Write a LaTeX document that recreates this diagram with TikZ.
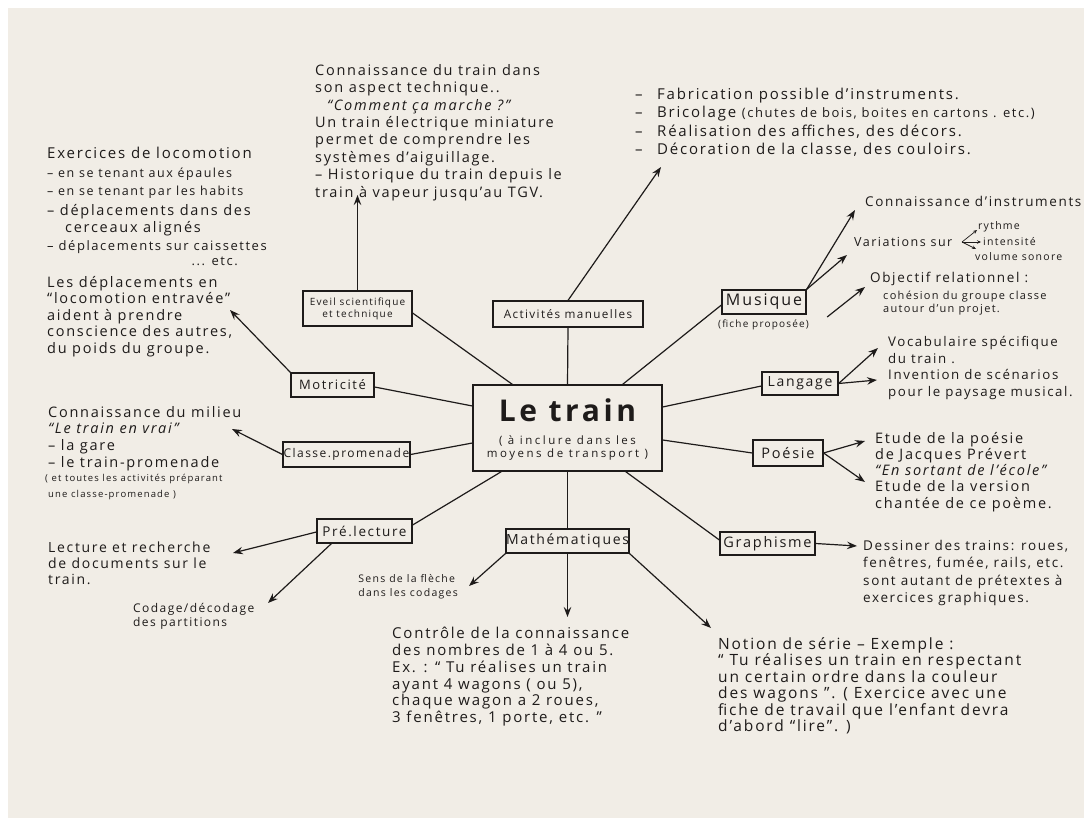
\documentclass[tikz,border=0pt]{standalone}
\usepackage{fontspec}
\setmainfont{Open Sans}[LetterSpace=12]
\newfontfamily\hwwide{Open Sans}[LetterSpace=22]
\usetikzlibrary{arrows.meta,calc}
\definecolor{paper}{RGB}{241,237,230}
\definecolor{ink}{RGB}{30,27,26}
\newcommand\fz[2]{\fontsize{#1}{#2}\selectfont}
\tikzset{
  box/.style={draw=ink, line width=1.2pt, inner sep=0pt, align=center, text=ink},
  hw/.style={inner sep=0pt, anchor=north west, align=left, text=ink},
  link/.style={draw=ink, line width=1.2pt},
  arr/.style={draw=ink, line width=1.2pt, -{Stealth[length=10pt,width=7.5pt,inset=3.5pt]}},
  sarr/.style={draw=ink, line width=0.7pt, -{Stealth[length=4pt,width=3.5pt,inset=1.5pt]}},
}
\begin{document}
\begin{tikzpicture}[x=1pt,y=-1pt]
\fill[white] (0,0) rectangle (1084,818);
\fill[paper] (8,8) rectangle (1084,818);
\useasboundingbox (0,0) rectangle (1084,818);

% ---------- boxes ----------
\node[box, minimum width=189pt, minimum height=86pt] (c) at (567.5,428) {};
\node[inner sep=0pt, text=ink, font=\fz{30}{30}\bfseries] (title) at ([yshift=18pt]c.center) {Le train};
\node[inner sep=0pt, text=ink, align=center, font=\hwwide\fz{11.5}{12.3}] (sub) at ([yshift=-20pt]c.center) {( à inclure dans les\\moyens de transport )};

\node[box, minimum width=109pt, minimum height=35pt, font=\fz{10}{12}] (eveil) at (357.5,308.5) {Eveil scientifique\\et technique};
\node[box, minimum width=150pt, minimum height=26pt, font=\fz{11.7}{14}] (activ) at (568,314) {Activités manuelles};
\node[box, minimum width=84pt, minimum height=24pt, font=\fz{16}{18}] (musique) at (764,302) {Musique};
\node[box, minimum width=83pt, minimum height=24pt, font=\fz{13}{15}] (motric) at (332.5,385) {Motricité};
\node[box, minimum width=76pt, minimum height=23pt, font=\fz{14}{17}] (langage) at (800,383.5) {Langage};
\node[box, minimum width=127pt, minimum height=25pt, font=\fz{12}{15}] (classe) at (346.5,454.5) {Classe.promenade};
\node[box, minimum width=70pt, minimum height=26pt, font=\fz{14.5}{17}] (poesie) at (788,453) {Poésie};
\node[box, minimum width=95pt, minimum height=23pt, font=\fz{14.5}{17}] (graph) at (767.5,543.5) {Graphisme};
\node[box, minimum width=121pt, minimum height=24pt, font=\fz{14}{17}] (maths) at (567.5,541) {Mathématiques};
\node[box, minimum width=95pt, minimum height=24pt, font=\fz{13.5}{15}] (prelec) at (364.5,531) {Pré.lecture};

% ---------- links to the centre ----------
\draw[link] ([yshift=-4.5pt]eveil.east) -- ([xshift=40pt]c.north west);
\draw[link] (activ.south) -- (c.north);
\draw[link] ([yshift=-3pt]musique.west) -- ([xshift=-40pt]c.north east);
\draw[link] ([yshift=-2pt]motric.east) -- ([yshift=22pt]c.west);
\draw[link] ([yshift=-2.5pt]langage.west) -- ([yshift=21pt]c.east);
\draw[link] (classe.east) -- ([yshift=-15pt]c.west);
\draw[link] (poesie.west) -- ([yshift=-12pt]c.east);
\draw[link] ([yshift=3.5pt]graph.west) -- ([xshift=-37pt]c.south east);
\draw[link] (maths.north) -- (c.south);
\draw[link] ([yshift=6pt]prelec.east) -- ([xshift=29pt]c.south west);

% ---------- text blocks ----------
\node[hw, font=\fz{15}{17}] (exA) at (47,147) {Exercices de locomotion};
\node[hw, font=\fz{12.5}{18}] (exB) at (47,168) {– en se tenant aux épaules\\– en se tenant par les habits};
\node[hw, font=\fz{14.5}{17}] (exC) at (47,204) {– déplacements dans des\\\hspace*{18pt}cerceaux alignés};
\node[hw, font=\fz{13}{18}] (exD) at (47,240) {– déplacements sur caissettes};
\node[hw, anchor=north east, font=\fz{13}{18}] (exE) at (238,257) {... etc.};
\node[hw, font=\fz{14.5}{16.5}] (loc) at (47,276) {Les déplacements en\\“locomotion entravée”\\aident à prendre\\conscience des autres,\\du poids du groupe.};

\node[hw, font=\fz{14.5}{17.4}] (evT) at (315,64) {Connaissance du train dans\\son aspect technique..\\\hspace*{12pt}\textit{“Comment ça marche ?”}\\Un train électrique miniature\\permet de comprendre les\\systèmes d'aiguillage.\\– Historique du train depuis le\\train à vapeur jusqu'au TGV.};

\node[hw, font=\fz{15}{18.4}] (acT) at (635,88) {\makebox[22pt][l]{–}Fabrication possible d'instruments.\\\makebox[22pt][l]{–}Bricolage {\fz{13}{18.4}(chutes de bois, boites en cartons . etc.)}\\\makebox[22pt][l]{–}Réalisation des affiches, des décors.\\\makebox[22pt][l]{–}Décoration de la classe, des couloirs.};

\node[hw, font=\fz{13.5}{17}] (muA) at (865,196) {Connaissance d'instruments};
\node[hw, anchor=west, font=\fz{12.5}{15}] (var) at (854,242) {Variations sur};
\node[hw, anchor=west, font=\fz{10.5}{13}] (ry) at (978,227) {rythme};
\node[hw, anchor=west, font=\fz{10.5}{13}] (inten) at (983,242) {intensité};
\node[hw, anchor=west, font=\fz{10.5}{13}] (vol) at (975,257) {volume sonore};
\node[hw, font=\fz{13.5}{16}] (obj) at (870,272) {Objectif relationnel :};
\node[hw, font=\fz{11}{13}] (coh) at (883,291) {cohésion du groupe classe\\autour d'un projet.};
\node[hw, anchor=west, font=\fz{10}{12}] (fiche) at (718,325) {(fiche proposée)};

\node[hw, font=\fz{13.3}{16.7}] (laT) at (888,336) {Vocabulaire spécifique\\du train .\\Invention de scénarios\\pour le paysage musical.};
\node[hw, font=\fz{14.5}{16.2}] (poT) at (875,432) {Etude de la poésie\\de Jacques Prévert\\\textit{“En sortant de l'école”}\\Etude de la version\\chantée de ce poème.};
\node[hw, font=\fz{13.5}{17.3}] (grT) at (863,540) {Dessiner des trains: roues,\\fenêtres, fumée, rails, etc.\\sont autant de prétextes à\\exercices graphiques.};

\node[hw, font=\fz{15}{16.8}] (ctT) at (392,627) {Contrôle de la connaissance\\des nombres de 1 à 4 ou 5.\\Ex. : “ Tu réalises un train\\ayant 4 wagons ( ou 5),\\chaque wagon a 2 roues,\\3 fenêtres, 1 porte, etc. ”};
\node[hw, font=\fz{15.5}{16.5}] (noT) at (718,637) {Notion de série – Exemple :\\“ Tu réalises un train en respectant\\un certain ordre dans la couleur\\des wagons ”. ( Exercice avec une\\fiche de travail que l'enfant devra\\d'abord “lire”. )};
\node[hw, anchor=north east, font=\fz{10.5}{14}] (sens) at (458,574) {Sens de la flèche\\dans les codages};
\node[hw, font=\fz{12}{14}] (cod) at (133,603) {Codage/décodage\\des partitions};
\node[hw, font=\fz{14}{16}] (lec) at (48,542) {Lecture et recherche\\de documents sur le\\train.};
\node[hw, font=\fz{14.5}{16.7}] (clT) at (48,406) {Connaissance du milieu\\\textit{“Le train en vrai”}\\– la gare\\– le train-promenade};
\node[hw, font=\fz{9.5}{16.5}] (clT2) at (45,474) {( et toutes les activités préparant\\\hspace*{3pt}une classe-promenade )};

% ---------- arrows ----------
\coordinate (aEv) at (357.5,195);
\draw[arr] (eveil.north) -- (aEv);
\coordinate (aAc) at (661,167);
\draw[arr] (activ.north) -- (aAc);
\coordinate (aMu1) at (855,210);
\coordinate (aMu2) at (847,255);
\coordinate (aMu3) at (865,287);
\draw[arr] (musique.north east) -- (aMu1);
\draw[arr] (musique.north east) -- (aMu2);
\draw[arr] ([xshift=18pt,yshift=8pt]fiche.east) -- (aMu3);
\coordinate (vs) at (962,242);
\draw[sarr] (vs) -- ([xshift=-1pt,yshift=-3pt]ry.west);
\draw[sarr] (vs) -- ([xshift=-2pt]inten.west);
\draw[sarr] (vs) -- ([xshift=1pt,yshift=8pt]vol.west);
\coordinate (aLa1) at (878,348);
\coordinate (aLa2) at (877,380);
\draw[arr] (langage.east) -- (aLa1);
\draw[arr] (langage.east) -- (aLa2);
\coordinate (aPo1) at (865,441);
\coordinate (aPo2) at (865,482);
\draw[arr] (poesie.east) -- (aPo1);
\draw[arr] (poesie.east) -- (aPo2);
\coordinate (aGr) at (857,546);
\draw[arr] (graph.east) -- (aGr);
\coordinate (aMa1) at (469,586);
\coordinate (aMa2) at (567.5,617);
\coordinate (aMa3) at (711,628);
\draw[arr] (maths.south west) -- (aMa1);
\draw[arr] (maths.south) -- (aMa2);
\draw[arr] (maths.south east) -- (aMa3);
\coordinate (aPr1) at (233,553);
\coordinate (aPr2) at (268,603);
\draw[arr] ([yshift=-1pt]prelec.west) -- (aPr1);
\draw[arr] ([xshift=15pt]prelec.south west) -- (aPr2);
\coordinate (aCl) at (232,429);
\draw[arr] (classe.west) -- (aCl);
\coordinate (aMo) at (230,310);
\draw[arr] (motric.north west) -- (aMo);
\end{tikzpicture}
\end{document}
